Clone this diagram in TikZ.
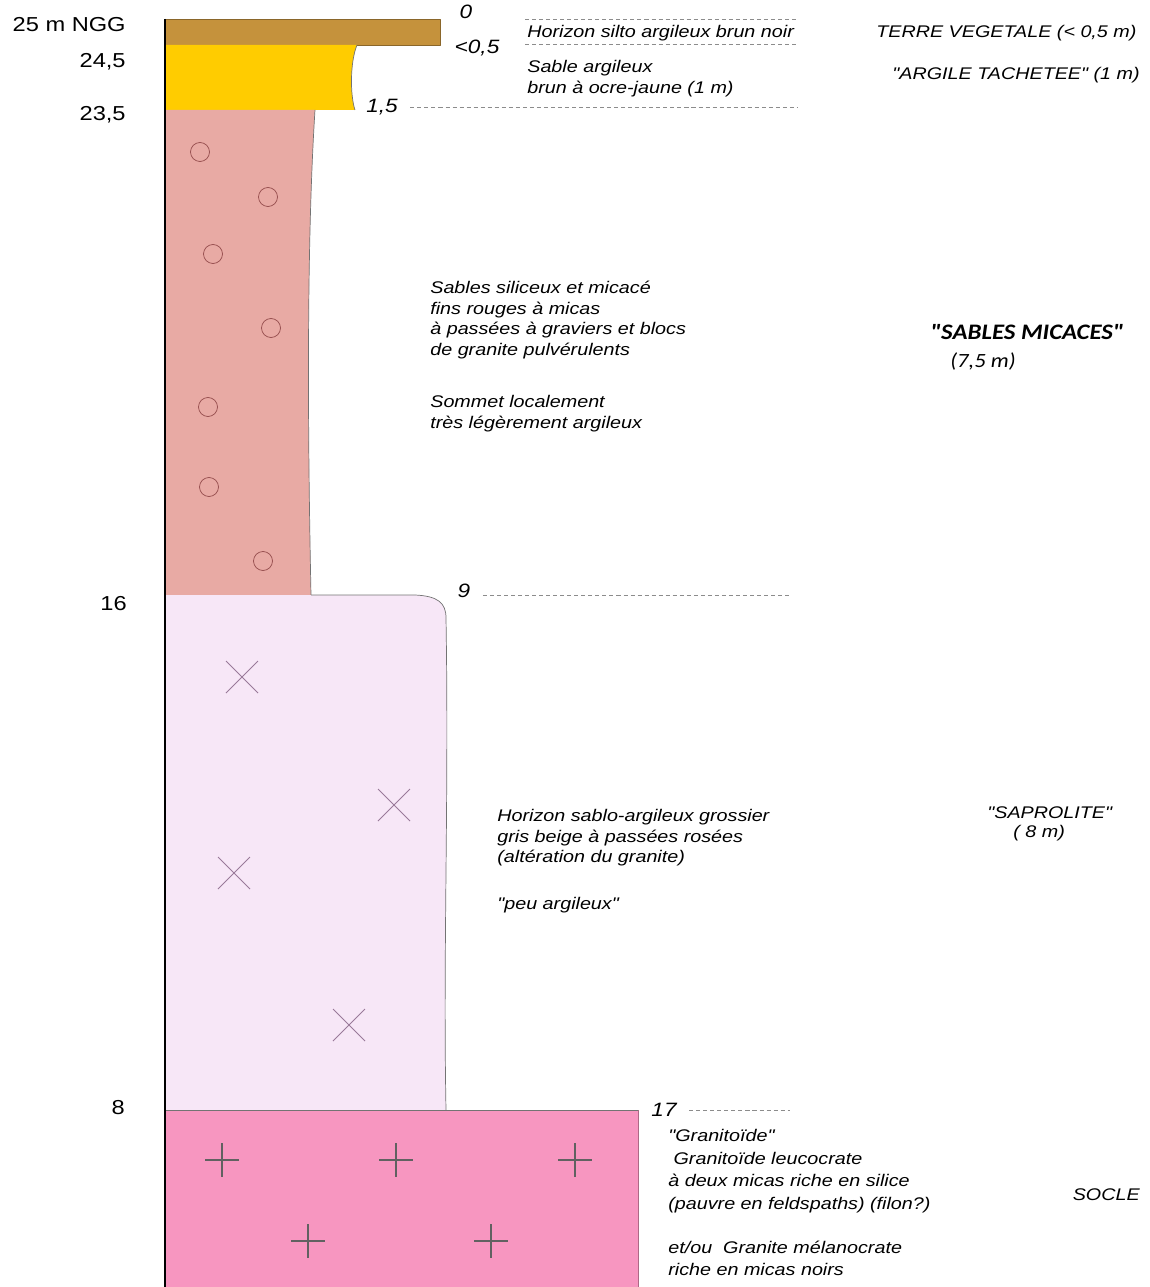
\documentclass[tikz,border=0pt]{standalone}
\usepackage{fontspec}
\newfontfamily\arialfont{Liberation Sans}[FakeStretch=1.17]
\newfontfamily\calibfont{Carlito}[FakeStretch=1.12]
\usetikzlibrary{positioning}

\definecolor{terre}{RGB}{197,146,60}
\definecolor{argile}{RGB}{255,204,0}
\definecolor{sable}{RGB}{232,170,164}
\definecolor{sapro}{RGB}{247,231,247}
\definecolor{socle}{RGB}{247,150,192}

\begin{document}
\begin{tikzpicture}
[
    x = 0.02cm, y = -0.02cm,
    line join = round,
    every node/.style = {inner sep = 0pt}
  ]

  \tikzset{AltStyle/.style    = {anchor    = east,
                                 font      = \fontsize{11.5}{13}\arialfont},
           DepthStyle/.style  = {inner sep = 1pt,
                                 font      = \fontsize{11}{13}\arialfont\itshape},
           TextStyle/.style   = {align     = left,
                                 font      = \fontsize{9.6}{11.7}\arialfont\itshape},
           UnitStyle/.style   = {anchor    = west,
                                 font      = \fontsize{9.6}{11.7}\arialfont\itshape},
           LeaderStyle/.style = {draw = black!45, line width = 0.4pt,
                                 dash pattern = on 2.3pt off 1.7pt},
           EdgeStyle/.style   = {draw = black!55, line width = 0.4pt}}

  \useasboundingbox (0,0) rectangle (1149,1287);

  % layers
  \filldraw[fill = terre, draw = terre!70!black, line width = 0.5pt]
    (165,19) rectangle (440,45);
  \fill[argile] (165,45) -- (357,45) .. controls (350,62) and (350,95) .. (355,110)
    -- (165,110) -- cycle;
  \draw[EdgeStyle] (357,45) .. controls (350,62) and (350,95) .. (355,110);
  \fill[sable] (165,110) -- (315,110) .. controls (306,250) and (308,450) .. (311,595)
    -- (165,595) -- cycle;
  \draw[EdgeStyle] (315,110) .. controls (306,250) and (308,450) .. (311,595);
  \fill[sapro] (165,595) -- (415,595) .. controls (438,596) and (446,603) .. (446,618)
    .. controls (449,800) and (443,950) .. (446,1110) -- (165,1110) -- cycle;
  \draw[EdgeStyle] (311,595) -- (415,595) .. controls (438,596) and (446,603) .. (446,618)
    .. controls (449,800) and (443,950) .. (446,1110);
  \fill[socle] (165,1110) rectangle (638,1287);
  \draw[EdgeStyle] (165,1110) -- (638,1110);
  \draw[draw = socle!70!black, line width = 0.4pt] (638,1110) -- (638,1287);
  \draw[line width = 1pt] (165,19) -- (165,1287);

  % symbols
  \foreach \x/\y in {200/152, 268/197, 213/254, 271/328, 208/407, 209/487, 263/561}
    \draw[draw = red!40!black!70, line width = 0.4pt] (\x,\y) circle [radius = 0.19cm];
  \foreach \x/\y in {242/677, 394/805, 234/873, 349/1025}
    \draw[draw = violet!30!gray!80, line width = 0.5pt]
      (\x,\y) ++(-16,-16) -- ++(32,32) ++(0,-32) -- ++(-32,32);
  \foreach \x/\y in {222/1160, 396/1160, 575/1160, 308/1241, 491/1241}
    \draw[draw = black!62, line width = 1.6pt]
      (\x,\y) ++(-17,0) -- ++(34,0) ++(-17,-17) -- ++(0,34);

  % altitudes
  \node[AltStyle] (a1) at (126,25)   {25 m NGG};
  \node[AltStyle] (a2) at (126,62)   {24,5};
  \node[AltStyle] (a3) at (126,115)  {23,5};
  \node[AltStyle] (a4) at (127,604)  {16};
  \node[AltStyle] (a5) at (125,1108) {8};

  % depths
  \node[DepthStyle] (d1) at (466,12)   {0};
  \node[DepthStyle] (d2) at (477,48)   {<0,5};
  \node[DepthStyle] (d3) at (382,107)  {1,5};
  \node[DepthStyle] (d4) at (464,591)  {9};
  \node[DepthStyle] (d5) at (664,1110) {17};

  \coordinate (e3) at (797,107);
  \coordinate (e4) at (790,595);
  \coordinate (e5) at (790,1110);
  \draw[LeaderStyle] (525,19) -- (797,19);
  \draw[LeaderStyle] (525,44) -- (797,44);
  \draw[LeaderStyle] ([xshift = 6pt]d3.east |- e3) -- (e3);
  \draw[LeaderStyle] ([xshift = 6pt]d4.east |- e4) -- (e4);
  \draw[LeaderStyle] ([xshift = 6pt]d5.east |- e5) -- (e5);

  % descriptions
  \node[TextStyle, anchor = west] (t1) at (527,33)
    {Horizon silto argileux brun noir};
  \node[TextStyle, anchor = north west] (t2) at (527,60)
    {Sable argileux\\brun à ocre-jaune (1 m)};
  \node[TextStyle, anchor = north west] (t3) at (430,281)
    {Sables siliceux et micacé\\fins rouges à micas\\à passées à graviers et blocs\\de granite pulvérulents\\[18pt]Sommet localement\\très légèrement argileux};
  \node[TextStyle, anchor = north west] (t4) at (497,809)
    {Horizon sablo-argileux grossier\\gris beige à passées rosées\\(altération du granite)\\[15pt]"peu argileux"};
  \node[TextStyle, anchor = north west, font = \fontsize{9.6}{12.9}\arialfont\itshape] (t5) at (668,1129)
    {"Granitoïde"\\\hspace{3pt}Granitoïde leucocrate\\à deux micas riche en silice\\(pauvre en feldspaths) (filon?)\\[12pt]et/ou\ \ Granite mélanocrate\\riche en micas noirs};

  % formations
  \node[UnitStyle] (n1) at (876,33)  {TERRE VEGETALE (< 0,5 m)};
  \node[UnitStyle, anchor = east] (n2) at (1140,75) {"ARGILE TACHETEE" (1 m)};
  \node[anchor = west, font = \fontsize{12.6}{14}\calibfont\bfseries\itshape] (n3) at (930,332)
    {"SABLES MICACES"};
  \node[anchor = west, font = \fontsize{11.5}{13}\calibfont\itshape] (n4) at (950,362)
    {(7,5 m)};
  \node[UnitStyle] (n5) at (987,813)  {"SAPROLITE"};
  \node[UnitStyle] (n6) at (1013,833) {( 8 m)};
  \node[UnitStyle, anchor = east] (n7) at (1140,1195) {SOCLE};

\end{tikzpicture}
\end{document}
